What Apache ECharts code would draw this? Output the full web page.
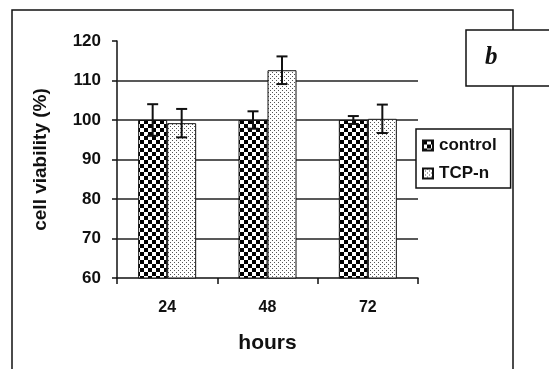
<!DOCTYPE html>
<html>
<head>
<meta charset="utf-8">
<script src="https://cdn.jsdelivr.net/npm/echarts@6/dist/echarts.min.js"></script>
<style>
  html, body { margin: 0; padding: 0; background: #fff; }
  #chart { width: 549px; height: 369px; }
</style>
</head>
<body>
<div id="chart"></div>
<script>
// Cell viability over time, control vs TCP-n (mean ± SD)
const categories = ['24', '48', '72'];
const controlMean = [100, 100, 100];
const controlSD = [4, 2.2, 1];
const tcpMean = [99.2, 112.6, 100.3];
const tcpSD = [3.6, 3.5, 3.6];
const yTicks = [60, 70, 80, 90, 100, 110, 120];
// horizontal reference lines drawn across the plot (none at the top)
const gridValues = [70, 80, 90, 100, 110];

// Fill patterns: checkerboard for control, dotted for TCP-n
function checkerPattern() {
  const c = document.createElement('canvas');
  c.width = 8; c.height = 8;
  const g = c.getContext('2d');
  g.fillStyle = '#fff'; g.fillRect(0, 0, 8, 8);
  g.fillStyle = '#000';
  g.fillRect(0, 0, 4, 4);
  g.fillRect(4, 4, 4, 4);
  return c;
}
function dotPattern() {
  const c = document.createElement('canvas');
  c.width = 4; c.height = 4;
  const g = c.getContext('2d');
  g.fillStyle = '#fff'; g.fillRect(0, 0, 4, 4);
  g.fillStyle = '#555';
  g.fillRect(0, 0, 1, 1);
  g.fillRect(2, 2, 1, 1);
  return c;
}

const BAR_W = 29;
const font = 'Liberation Sans, Arial, sans-serif';

function errorSeries(name, means, sds, offset) {
  return {
    type: 'custom',
    name: name + ' err',
    z: 5,
    data: means.map((m, i) => [i, m - sds[i], m + sds[i]]),
    renderItem: function (params, api) {
      const lo = api.coord([api.value(0), api.value(1)]);
      const hi = api.coord([api.value(0), api.value(2)]);
      const x = lo[0] + offset;
      const cap = 5.5;
      const style = { stroke: '#111', lineWidth: 2 };
      return {
        type: 'group',
        children: [
          { type: 'line', shape: { x1: x, y1: lo[1], x2: x, y2: hi[1] }, style: style },
          { type: 'line', shape: { x1: x - cap, y1: hi[1], x2: x + cap, y2: hi[1] }, style: style },
          { type: 'line', shape: { x1: x - cap, y1: lo[1], x2: x + cap, y2: lo[1] }, style: style }
        ]
      };
    }
  };
}

const chart = echarts.init(document.getElementById('chart'), null, { renderer: 'canvas' });

chart.setOption({
  animation: false,
  backgroundColor: '#fff',
  grid: { left: 117, right: 131, top: 41, bottom: 91 },
  legend: {
    orient: 'vertical',
    left: 416,
    top: 129,
    data: ['control', 'TCP-n'],
    icon: 'rect',
    itemWidth: 10,
    itemHeight: 10,
    itemGap: 11,
    padding: [8, 14, 6, 6],
    borderColor: '#111',
    borderWidth: 1.5,
    backgroundColor: '#fff',
    textStyle: { fontFamily: font, fontWeight: 'bold', fontSize: 17, color: '#111', lineHeight: 17, padding: [0, 0, 0, 1] }
  },
  xAxis: {
    type: 'category',
    data: categories,
    name: 'hours',
    nameLocation: 'middle',
    nameGap: 55,
    nameTextStyle: { fontFamily: font, fontWeight: 'bold', fontSize: 21, color: '#111' },
    axisLine: { lineStyle: { color: '#111', width: 1.5 } },
    axisTick: { show: true, length: 6, lineStyle: { color: '#111', width: 1.5 } },
    axisLabel: { fontFamily: font, fontWeight: 'bold', fontSize: 16, color: '#111', margin: 22 },
    splitLine: { show: false }
  },
  yAxis: {
    type: 'value',
    min: yTicks[0],
    max: yTicks[yTicks.length - 1],
    interval: 10,
    name: 'cell viability (%)',
    nameLocation: 'middle',
    nameGap: 67,
    nameTextStyle: { fontFamily: font, fontWeight: 'bold', fontSize: 19, color: '#111' },
    axisLine: { show: true, lineStyle: { color: '#111', width: 1.5 } },
    axisTick: { show: true, length: 5, lineStyle: { color: '#111', width: 1.5 } },
    axisLabel: { fontFamily: font, fontWeight: 'bold', fontSize: 17, color: '#111', margin: 16 },
    splitLine: { show: false }
  },
  series: [
    {
      name: 'control',
      type: 'bar',
      data: controlMean,
      barWidth: BAR_W,
      barGap: '0%',
      z: 3,
      itemStyle: { color: { image: checkerPattern(), repeat: 'repeat' }, borderColor: '#111', borderWidth: 1 },
      markLine: {
        silent: true,
        symbol: 'none',
        z: 1,
        label: { show: false },
        lineStyle: { color: '#222', width: 1.5, type: 'solid' },
        data: gridValues.map(v => ({ yAxis: v }))
      }
    },
    {
      name: 'TCP-n',
      type: 'bar',
      data: tcpMean,
      barWidth: BAR_W,
      barGap: '0%',
      z: 3,
      itemStyle: { color: { image: dotPattern(), repeat: 'repeat' }, borderColor: '#111', borderWidth: 1 }
    },
    errorSeries('control', controlMean, controlSD, -BAR_W / 2),
    errorSeries('TCP-n', tcpMean, tcpSD, BAR_W / 2)
  ],
  graphic: [
    // outer panel frame
    { type: 'polyline', z: 1, shape: { points: [[12, 369], [12, 10], [513, 10], [513, 369]] },
      style: { stroke: '#111', lineWidth: 1.5, fill: null } },
    // panel label box
    { type: 'rect', z: 10, shape: { x: 466, y: 30, width: 100, height: 56 },
      style: { fill: '#fff', stroke: '#111', lineWidth: 1.5 } },
    { type: 'text', z: 11, left: 485, top: 45,
      style: { text: 'b', font: 'italic bold 25px "Liberation Serif", "DejaVu Serif", serif', fill: '#111' } }
  ]
});
</script>
</body>
</html>
